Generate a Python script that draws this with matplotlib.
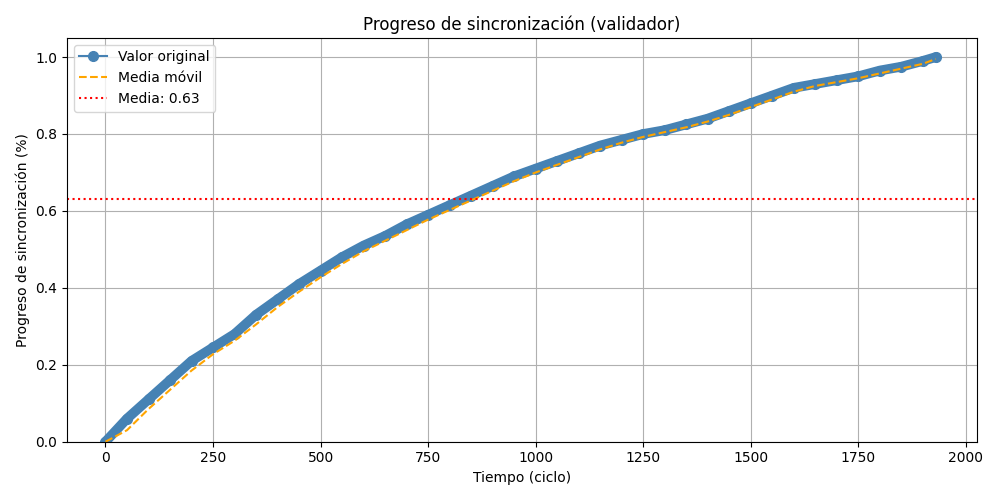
import matplotlib
matplotlib.use("Agg")
import matplotlib.pyplot as plt
import pandas as pd

ciclos = [0, 50, 100, 150, 200, 250, 300, 350, 400, 450, 500, 550, 600, 650, 700, 750, 800, 850, 900, 950,
          1000, 1050, 1100, 1150, 1200, 1250, 1300, 1350, 1400, 1450, 1500, 1550, 1600, 1650, 1700, 1750,
          1800, 1850, 1900, 1930]
progreso = [0.0, 0.06, 0.11, 0.16, 0.21, 0.245, 0.28, 0.33, 0.37, 0.41, 0.445, 0.48, 0.51, 0.535, 0.565,
            0.59, 0.615, 0.64, 0.665, 0.69, 0.71, 0.73, 0.75, 0.77, 0.785, 0.80, 0.81, 0.825, 0.84, 0.86,
            0.88, 0.90, 0.92, 0.93, 0.94, 0.95, 0.965, 0.975, 0.99, 1.0]
media = 0.63

movil = pd.Series(progreso).rolling(2, min_periods=1, center=True).mean()

fig, ax = plt.subplots(figsize=(10, 5), dpi=100)
ax.plot(ciclos, progreso, color="steelblue", lw=7, solid_capstyle="round")
ax.plot(ciclos, progreso, color="steelblue", marker="o", ms=7, lw=1.5, label="Valor original")
ax.plot(ciclos, movil, color="orange", ls="--", lw=1.5, label="Media móvil")
ax.axhline(media, color="red", ls=":", lw=1.5, label=f"Media: {media:.2f}")
ax.set_ylim(0, 1.05)
ax.set_xlim(-90, 2025)
ax.set_title("Progreso de sincronización (validador)")
ax.set_xlabel("Tiempo (ciclo)")
ax.set_ylabel("Progreso de sincronización (%)")
ax.grid(True)
ax.legend(loc="upper left")
fig.tight_layout()
fig.savefig("out.png")
